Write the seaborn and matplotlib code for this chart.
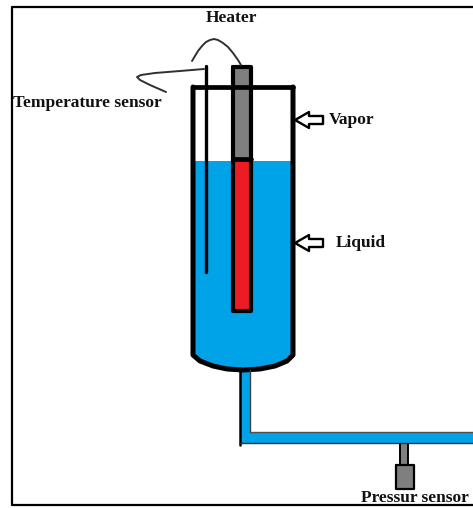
import matplotlib
matplotlib.use('Agg')
import matplotlib.pyplot as plt
import pandas as pd
import seaborn as sns

BLUE = '#00a2e8'
RED = '#ed1c24'
GRAY = '#7f7f7f'

# outlines, in picture pixels
frame_x = [473, 12, 12, 473]
frame_y = [7, 7, 505, 505]

vessel_x = [193, 193, 200, 213, 227, 243, 260, 275, 287, 293, 293]
vessel_y = [87, 355, 361, 366, 369, 370, 369, 366, 361, 355, 87]
lid_x = [193, 293]
lid_y = [87, 87]
liquid_top = 161

heater_x = [233, 251]
heater_top = 67
heater_split = 159
heater_bottom = 311

probe_x = [206, 206]
probe_y = [66, 272]
probe_wire_x = [204, 180, 155, 141, 137, 140, 150, 166]
probe_wire_y = [69, 71, 73, 75, 77, 80, 85, 92]
heater_wire_x = [192, 195, 198, 202, 206, 210, 214, 218, 223, 228, 233, 238, 241]
heater_wire_y = [61, 56, 51, 46, 42, 40, 39, 40, 43, 47, 53, 60, 65]

pipe_left = 240
pipe_right = 250
pipe_top = 432
pipe_bottom = 443
pipe_end = 473
pipe_start = 368

stem_x = [400, 408]
stem_y = [444, 465]
gauge_x = [396, 414]
gauge_y = [465, 489]

arrow_x = [295, 309, 309, 323, 323, 309, 309, 295]
arrow_dy = [0, -8, -4, -4, 4, 4, 8, 0]
arrow_rows = [120, 243]

labels = ['Heater', 'Temperature sensor', 'Vapor', 'Liquid', 'Pressur sensor']
label_x = [231, 13, 329, 336, 361]
label_y = [18, 103, 120, 243, 498]
label_ha = ['center', 'left', 'left', 'left', 'left']


def draw_line(ax, xs, ys, width, color='black'):
  df = pd.DataFrame({'x': xs, 'y': ys})
  sns.lineplot(data=df, x='x', y='y', sort=False, estimator=None, color=color,
               linewidth=width, ax=ax, solid_capstyle='round', solid_joinstyle='round')


sns.set_theme(style='white')
plt.rcParams['font.family'] = ['Liberation Serif', 'DejaVu Serif']

fig = plt.figure(figsize=(4.73, 5.08), dpi=100)
ax = fig.add_axes([0, 0, 1, 1])

# liquid in the vessel and the pipe
liquid_x = [193, 193] + vessel_x[2:9] + [293, 293]
liquid_y = [liquid_top] + vessel_y[1:10] + [liquid_top]
ax.fill(liquid_x, liquid_y, color=BLUE, linewidth=0)
ax.fill([pipe_left, pipe_right, pipe_right, pipe_end, pipe_end, pipe_left],
        [pipe_start, pipe_start, pipe_top, pipe_top, pipe_bottom, pipe_bottom],
        color=BLUE, linewidth=0)

# vessel
draw_line(ax, vessel_x, vessel_y, 3.6)
draw_line(ax, lid_x, lid_y, 3.4)

# pipe walls
draw_line(ax, [pipe_left, pipe_left], [pipe_start, pipe_bottom + 2], 1.8)
draw_line(ax, [pipe_right, pipe_right], [pipe_start + 2, pipe_top], 1.0, '#404040')
draw_line(ax, [pipe_right, pipe_end], [pipe_top, pipe_top], 1.0, '#505050')
draw_line(ax, [pipe_left, pipe_end], [pipe_bottom, pipe_bottom], 1.0, '#303030')

# heater
ax.fill_between(heater_x, heater_top, heater_split, color=GRAY, linewidth=0)
ax.fill_between(heater_x, heater_split, heater_bottom, color=RED, linewidth=0)
draw_line(ax, [heater_x[0], heater_x[0], heater_x[1], heater_x[1], heater_x[0]],
          [heater_top, heater_bottom, heater_bottom, heater_top, heater_top], 3.0)
draw_line(ax, heater_x, [heater_split, heater_split], 3.4)

# temperature probe and wires
draw_line(ax, probe_x, probe_y, 2.4)
draw_line(ax, probe_wire_x, probe_wire_y, 1.4, '#303030')
draw_line(ax, heater_wire_x, heater_wire_y, 1.4, '#303030')

# pressure sensor
ax.fill_between(stem_x, stem_y[0], stem_y[1], color=GRAY, linewidth=0)
draw_line(ax, [stem_x[0], stem_x[0]], stem_y, 1.4)
draw_line(ax, [stem_x[1], stem_x[1]], stem_y, 1.4)
ax.fill_between(gauge_x, gauge_y[0], gauge_y[1], color=GRAY, linewidth=0)
draw_line(ax, [gauge_x[0], gauge_x[0], gauge_x[1], gauge_x[1], gauge_x[0]],
          [gauge_y[0], gauge_y[1], gauge_y[1], gauge_y[0], gauge_y[0]], 1.6)

# arrows next to the vessel
for row in arrow_rows:
  draw_line(ax, arrow_x, [row + dy for dy in arrow_dy], 1.7)

# border of the picture
draw_line(ax, frame_x, frame_y, 1.6)

for text, x, y, ha in zip(labels, label_x, label_y, label_ha):
  ax.text(x, y, text, ha=ha, va='center', fontsize=12.5, fontweight='bold', color='#111111')

ax.set_xlim(0, 473)
ax.set_ylim(508, 0)
ax.axis('off')
fig.savefig('out.png', dpi=100, facecolor='white')
